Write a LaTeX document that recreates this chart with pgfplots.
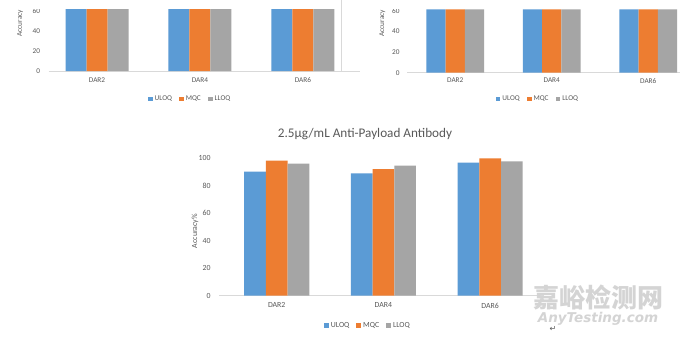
\documentclass[border=0pt]{standalone}
\usepackage{pgfplots}
\pgfplotsset{compat=1.18}
\usepackage{fontspec}
\setmainfont{Carlito}
\newfontfamily\cjk{Noto Sans CJK SC}
\newfontfamily\dejavu{DejaVu Sans}
\definecolor{cU}{HTML}{5B9BD5}
\definecolor{cM}{HTML}{ED7D31}
\definecolor{cL}{HTML}{A5A5A5}
\definecolor{txt}{HTML}{595959}
\definecolor{axl}{HTML}{D9D9D9}
\definecolor{wm}{HTML}{D4D4D4}
\pgfplotsset{
  exstyle/.style={
    scale only axis, ybar=0pt,
    axis x line*=bottom, axis y line*=left,
    y axis line style={draw=none},
    x axis line style={draw=axl, line width=0.8pt, -},
    major tick length=0pt,
    xtick={0,1,2}, xticklabels={DAR2,DAR4,DAR6},
    ymin=0, enlargelimits=false,
    /pgf/number format/assume math mode=true,
    tick label style={text=txt},
    ylabel style={text=txt},
    legend style={draw=none, fill=none, legend columns=-1, text=txt,
      /tikz/every even column/.append style={column sep=5pt}},
    legend image code/.code={\fill[##1] (0pt,-2.4pt) rectangle (4.8pt,2.4pt);},
  }
}
\begin{document}
\begin{tikzpicture}
\useasboundingbox (0,0) rectangle (680pt,-338pt);
\fill[white] (0,0) rectangle (680pt,-338pt);
\begin{scope}
\clip (0pt,-9.4pt) rectangle (680pt,-120pt);
% top-left
\begin{axis}[exstyle,
  at={(48.6pt,-71pt)}, anchor=south west,
  width=311pt, height=62pt,
  xmin=-0.47, xmax=2.55, ymax=62,
  ytick={0,20,40,60},
  bar width=21pt,
  tick label style={font=\fontsize{7.3}{8.3}\selectfont},
  xticklabel style={yshift=-3pt},
  yticklabel style={xshift=-5pt},
  ylabel={Accuracy\%},
  ylabel style={font=\fontsize{7.3}{8.3}\selectfont, at={(axis description cs:-0.092,0.5)}, anchor=west},
  legend style={font=\fontsize{7.3}{8.3}\selectfont, at={(axis description cs:0.455,-0.452)}, anchor=center},
]
\addplot[fill=cU, draw=none] coordinates {(0,62) (1,62) (2,62)};
\addplot[fill=cM, draw=none] coordinates {(0,62) (1,62) (2,62)};
\addplot[fill=cL, draw=none] coordinates {(0,62) (1,62) (2,62)};
\legend{ULOQ,MQC,LLOQ}
\end{axis}
% top-right
\begin{axis}[exstyle,
  at={(407pt,-72.7pt)}, anchor=south west,
  width=289.5pt, height=63.4pt,
  xmin=-0.5, xmax=2.5, ymax=61.6,
  ytick={0,20,40,60},
  bar width=19.3pt,
  tick label style={font=\fontsize{7.3}{8.3}\selectfont},
  xticklabel style={yshift=-2pt},
  yticklabel style={xshift=-4pt},
  ylabel={Accuracy\%},
  ylabel style={font=\fontsize{7.3}{8.3}\selectfont, at={(axis description cs:-0.086,0.516)}, anchor=west},
  legend style={font=\fontsize{7.3}{8.3}\selectfont, at={(axis description cs:0.452,-0.415)}, anchor=center},
]
\addplot[fill=cU, draw=none] coordinates {(0,61.6) (1,61.6) (2,61.6)};
\addplot[fill=cM, draw=none] coordinates {(0,61.6) (1,61.6) (2,61.6)};
\addplot[fill=cL, draw=none] coordinates {(0,61.6) (1,61.6) (2,61.6)};
\legend{ULOQ,MQC,LLOQ}
\end{axis}
\end{scope}
\draw[axl, line width=0.6pt] (341.7pt,0pt) -- (341.7pt,-71pt);
% bottom
\begin{axis}[exstyle,
  at={(219.1pt,-295.7pt)}, anchor=south west,
  width=324.4pt, height=137.4pt,
  xmin=-0.54, xmax=2.5, ymax=100,
  ytick={0,20,40,60,80,100},
  clip=false,
  bar width=21.7pt,
  tick label style={font=\fontsize{7.8}{8.8}\selectfont},
  xticklabel style={yshift=-3.5pt},
  yticklabel style={xshift=-5pt},
  ylabel={Accuracy\%},
  ylabel style={font=\fontsize{7.8}{8.8}\selectfont, at={(axis description cs:-0.0743,0.47)}, anchor=center},
  title={2.5µg/mL Anti-Payload Antibody},
  title style={font=\fontsize{13.2}{15}\selectfont, text=txt, at={(axis description cs:0.4498,1.133)}, anchor=center},
  legend style={font=\fontsize{7.8}{8.8}\selectfont, at={(axis description cs:0.459,-0.218)}, anchor=center},
]
\addplot[fill=cU, draw=none] coordinates {(0,90.3) (1,89.1) (2,96.8)};
\addplot[fill=cM, draw=none] coordinates {(0,98.3) (1,92.2) (2,100)};
\addplot[fill=cL, draw=none] coordinates {(0,96.1) (1,94.7) (2,97.8)};
\legend{ULOQ,MQC,LLOQ}
\end{axis}
\node[text=wm, font=\cjk\bfseries\fontsize{26}{26}\selectfont] at (598pt,-297pt) {嘉峪检测网};
\node[text=wm, font=\dejavu\bfseries\itshape\fontsize{13.5}{14}\selectfont] at (598pt,-318.5pt) {AnyTesting.com};
\node[text=txt, font=\dejavu\fontsize{8}{8}\selectfont] at (553pt,-329pt) {↵};
\end{tikzpicture}
\end{document}
